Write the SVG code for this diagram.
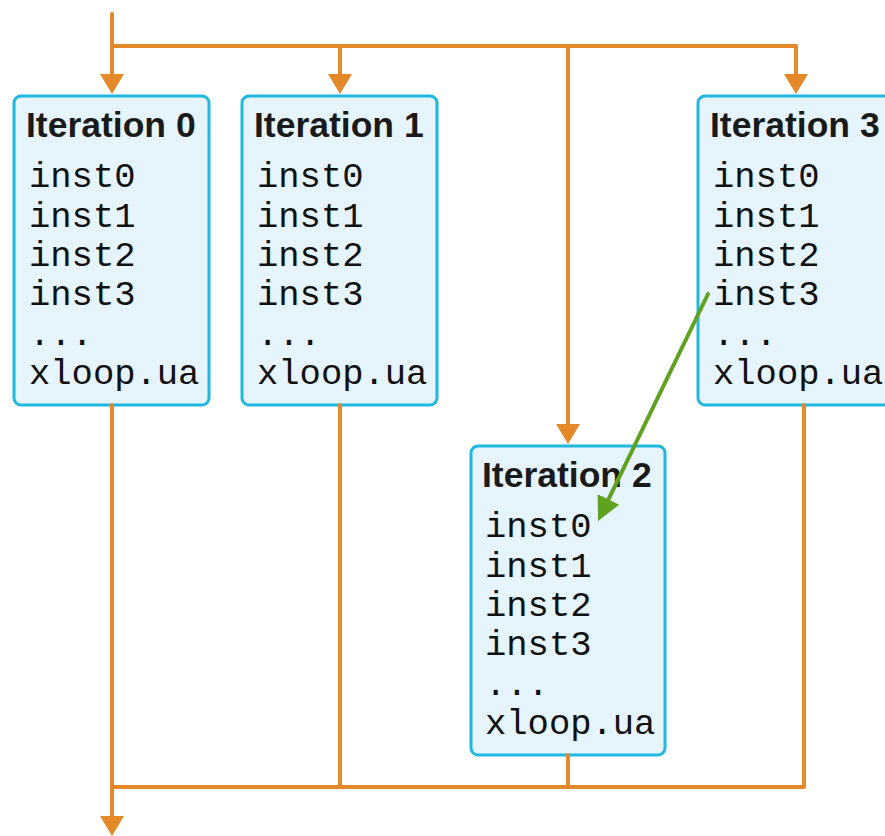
<svg xmlns="http://www.w3.org/2000/svg" width="885" height="836" viewBox="0 0 885 836">
<style>
.box{fill:#e6f4fd;stroke:#1fb8e0;stroke-width:3}
.title{font-family:"Liberation Sans",Arial,sans-serif;font-weight:bold;font-size:35.5px;fill:#1a1a1a}
.code{font-family:"Liberation Mono","Courier New",monospace;font-size:35.5px;fill:#111}
.wire{fill:none;stroke:#e3892a;stroke-width:4;stroke-linecap:round;stroke-linejoin:round}
.dep{fill:none;stroke:#5fa21f;stroke-width:4;stroke-linecap:round}
</style>
<defs>
<marker id="ao" viewBox="0 0 20 24" refX="14" refY="12" markerWidth="20" markerHeight="24" markerUnits="userSpaceOnUse" orient="auto">
<path d="M0,0 L20,12 L0,24 Z" fill="#e3892a"/>
</marker>
<marker id="ag" viewBox="0 0 24 24" refX="16" refY="12" markerWidth="24" markerHeight="24" markerUnits="userSpaceOnUse" orient="auto">
<path d="M0,0 L24,12 L0,24 Z" fill="#5fa21f"/>
</marker>
</defs>
<g id="iter0">
<rect class="box" x="14" y="96" width="195" height="309" rx="7"/>
<text class="title" x="26" y="137">Iteration 0</text>
<text class="code" x="29" y="187">inst0</text>
<text class="code" x="29" y="226.5">inst1</text>
<text class="code" x="29" y="266">inst2</text>
<text class="code" x="29" y="305">inst3</text>
<text class="code" x="29" y="344.5">...</text>
<text class="code" x="29" y="384">xloop.ua</text>
</g>
<g id="iter1">
<rect class="box" x="242" y="96" width="195" height="309" rx="7"/>
<text class="title" x="254" y="137">Iteration 1</text>
<text class="code" x="257" y="187">inst0</text>
<text class="code" x="257" y="226.5">inst1</text>
<text class="code" x="257" y="266">inst2</text>
<text class="code" x="257" y="305">inst3</text>
<text class="code" x="257" y="344.5">...</text>
<text class="code" x="257" y="384">xloop.ua</text>
</g>
<g id="iter2">
<rect class="box" x="471" y="446" width="194" height="309" rx="7"/>
<text class="title" x="482" y="487">Iteration 2</text>
<text class="code" x="485" y="537">inst0</text>
<text class="code" x="485" y="576.5">inst1</text>
<text class="code" x="485" y="616">inst2</text>
<text class="code" x="485" y="655">inst3</text>
<text class="code" x="485" y="694.5">...</text>
<text class="code" x="485" y="734">xloop.ua</text>
</g>
<g id="iter3">
<rect class="box" x="698" y="96" width="195" height="309" rx="7"/>
<text class="title" x="710" y="137">Iteration 3</text>
<text class="code" x="713" y="187">inst0</text>
<text class="code" x="713" y="226.5">inst1</text>
<text class="code" x="713" y="266">inst2</text>
<text class="code" x="713" y="305">inst3</text>
<text class="code" x="713" y="344.5">...</text>
<text class="code" x="713" y="384">xloop.ua</text>
</g>
<g id="connectors">
<path class="wire" d="M112,14 V46 H796"/>
<path class="wire" d="M112,46 V88" marker-end="url(#ao)"/>
<path class="wire" d="M340,46 V88" marker-end="url(#ao)"/>
<path class="wire" d="M796,46 V88" marker-end="url(#ao)"/>
<path class="wire" d="M568,46 V438" marker-end="url(#ao)"/>
<path class="wire" d="M112,405 V830" marker-end="url(#ao)"/>
<path class="wire" d="M340,405 V787"/>
<path class="wire" d="M568,755 V787"/>
<path class="wire" d="M804,405 V787 H112"/>
<path class="dep" d="M708,294 L601.5,513.8" marker-end="url(#ag)"/>
</g>
</svg>
